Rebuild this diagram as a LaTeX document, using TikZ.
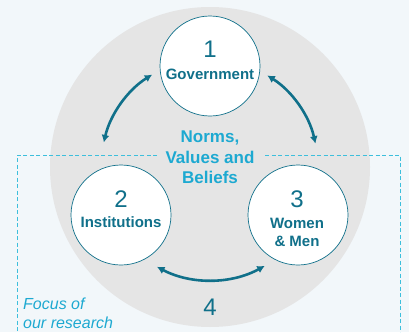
\documentclass[tikz,border=0pt]{standalone}
\usepackage{fontspec}
\setmainfont{Liberation Sans}
\usetikzlibrary{arrows.meta,calc}
\definecolor{bgc}{HTML}{F2F7FA}
\definecolor{greyc}{HTML}{E5E5E5}
\definecolor{tealc}{HTML}{10708A}
\definecolor{nblue}{HTML}{1DA9D1}
\definecolor{dashc}{HTML}{3DBFDC}
\tikzset{
  bubble/.style={circle, draw=tealc, fill=white, line width=0.7pt, minimum size=100pt, inner sep=0pt},
  num/.style={font=\fontsize{24}{28}\selectfont, text=tealc, inner sep=0pt, anchor=base},
  lab/.style={font=\fontsize{15}{18}\selectfont\bfseries, text=tealc, inner sep=0pt, anchor=base},
  norm/.style={font=\fontsize{17}{20}\selectfont\bfseries, text=nblue, inner sep=0pt, anchor=base},
  focus/.style={font=\fontsize{16}{19}\selectfont\itshape, text=nblue, inner sep=0pt, anchor=base west},
  arr/.style={draw=tealc, line width=2.6pt, {Latex[length=7.5pt,width=8pt]}-{Latex[length=7.5pt,width=8pt]}},
  dashline/.style={draw=dashc, line width=1pt, dash pattern=on 4pt off 2.5pt}
}
\begin{document}
\begin{tikzpicture}[x=1pt,y=1pt]
\fill[bgc] (0,0) rectangle (409,-332);
\useasboundingbox (0,0) rectangle (409,-332);
\coordinate (o) at (210,-167);
\fill[greyc] (o) circle[radius=160];
% dashed focus frame
\coordinate (dl) at (157,-155);
\coordinate (dr) at (265,-155);
\draw[dashline] (dl) -- (17,-155) -- (17,-332);
\draw[dashline] (dr) -- (400,-155) -- (400,-332);
% circles
\node[bubble] (c1) at (210,-66) {};
\node[bubble] (c2) at (121,-215) {};
\node[bubble] (c3) at (298,-215) {};
% texts in circles
\node[num] (n1) at (210,-57) {1};
\node[lab] (l1) at (210,-79) {Government};
\node[num] (n2) at (121,-207) {2};
\node[lab] (l2) at (121,-227) {Institutions};
\node[num] (n3) at (297,-207) {3};
\node[lab] (l3a) at (297,-228) {Women};
\node[lab] (l3b) at (297,-246) {\&~Men};
% centre text
\node[norm] (m1) at (210,-142) {Norms,};
\node[norm] (m2) at (210,-163) {Values and};
\node[norm] (m3) at (210,-183) {Beliefs};
% 4 and focus
\node[num] (n4) at (210,-315) {4};
\node[focus] (f1) at (23,-309) {Focus of};
\node[focus] (f2) at (23,-328) {our research};
% arrows
\coordinate (a12) at ($(o)+(122:109)$);
\coordinate (a13) at ($(o)+(58:108)$);
\coordinate (a23) at ($(o)+(242:113)$);
\draw[arr] (a12) arc[start angle=122, end angle=167, radius=109];
\draw[arr] (a13) arc[start angle=58, end angle=12.5, radius=108];
\draw[arr] (a23) arc[start angle=242, end angle=299, radius=113];
\end{tikzpicture}
\end{document}
